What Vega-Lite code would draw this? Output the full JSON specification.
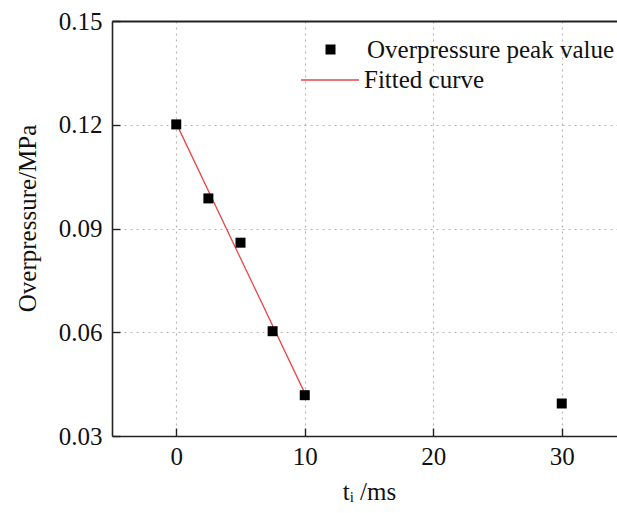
{
  "$schema": "https://vega.github.io/schema/vega-lite/v6.json",
  "width": 505,
  "height": 415,
  "autosize": {"type": "none"},
  "padding": {"left": 112, "top": 21, "right": 0, "bottom": 77},
  "background": "white",
  "config": {
    "view": {"stroke": null},
    "font": "Liberation Serif",
    "axis": {
      "labelFont": "Liberation Serif",
      "titleFont": "Liberation Serif",
      "labelFontSize": 25,
      "titleFontSize": 25,
      "labelColor": "#111",
      "titleColor": "#111",
      "titleFontWeight": "normal",
      "domainColor": "#222",
      "domainWidth": 1.6,
      "tickColor": "#222",
      "tickWidth": 1.4,
      "tickSize": -8,
      "gridColor": "#b5b5b5",
      "gridDash": [2, 4],
      "gridWidth": 1.2
    },
    "legend": {
      "labelFont": "Liberation Serif",
      "labelFontSize": 25,
      "labelColor": "#111",
      "labelLimit": 400,
      "padding": 0,
      "title": null,
      "orient": "none"
    }
  },
  "datasets": {
    "points": [
      {"t": 0, "p": 0.1201},
      {"t": 2.5, "p": 0.0987},
      {"t": 5, "p": 0.0859},
      {"t": 7.5, "p": 0.0603},
      {"t": 10, "p": 0.0418},
      {"t": 30, "p": 0.0394}
    ],
    "fit": [
      {"t": 0, "p": 0.1204},
      {"t": 10, "p": 0.0424}
    ]
  },
  "layer": [
    {
      "data": {"name": "fit"},
      "mark": {"type": "line", "strokeWidth": 1.3, "clip": true},
      "encoding": {
        "x": {
          "field": "t", "type": "quantitative",
          "scale": {"domain": [-5, 34.3], "nice": false, "zero": false},
          "axis": {
            "values": [0, 10, 20, 30],
            "title": "tᵢ /ms",
            "titlePadding": 10,
            "titleX": 257,
            "labelPadding": 16,
            "grid": true
          }
        },
        "y": {
          "field": "p", "type": "quantitative",
          "scale": {"domain": [0.03, 0.15], "nice": false, "zero": false},
          "axis": {
            "values": [0.03, 0.06, 0.09, 0.12, 0.15],
            "format": ".2f",
            "title": "Overpressure/MPa",
            "titlePadding": 18,
            "titleY": 197,
            "labelPadding": 18,
            "grid": true
          }
        },
        "color": {
          "datum": "Fitted curve", "type": "nominal",
          "scale": {"domain": ["Fitted curve"], "range": ["#e8474a"]},
          "legend": {
            "legendX": 188,
            "legendY": 29,
            "symbolSize": 3364,
            "symbolStrokeWidth": 1.5,
            "labelOffset": 4
          }
        }
      }
    },
    {
      "data": {"name": "points"},
      "mark": {"type": "point", "shape": "square", "size": 100, "filled": true, "opacity": 1, "color": "#000000", "clip": true},
      "encoding": {
        "x": {"field": "t", "type": "quantitative", "axis": null},
        "y": {"field": "p", "type": "quantitative"},
        "shape": {
          "datum": "Overpressure peak value", "type": "nominal",
          "scale": {"domain": ["Overpressure peak value"], "range": ["square"]},
          "legend": {
            "legendX": 206,
            "legendY": 16,
            "symbolSize": 100,
            "symbolFillColor": "#000000",
            "symbolStrokeColor": "#000000",
            "symbolStrokeWidth": 0,
            "symbolOpacity": 1,
            "labelOffset": 24
          }
        }
      }
    },
    {
      "data": {"values": [{"t": 0}]},
      "mark": {"type": "rule", "opacity": 0},
      "encoding": {
        "x": {
          "field": "t", "type": "quantitative",
          "axis": {"orient": "top", "values": [], "labels": false, "ticks": false, "title": null, "grid": false, "domainWidth": 2}
        }
      }
    }
  ],
  "resolve": {"axis": {"x": "independent"}, "scale": {"color": "independent", "shape": "independent"}}
}
